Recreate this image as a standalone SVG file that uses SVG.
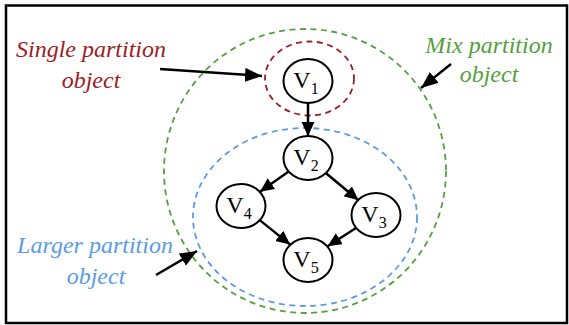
<svg xmlns="http://www.w3.org/2000/svg" width="569" height="325" viewBox="0 0 569 325">
<style>
.node ellipse{fill:#fff;stroke:#000;stroke-width:2}
.vl{font-size:24px;fill:#000;text-anchor:middle}
.sub{font-size:16px}
.lab{font-style:italic;font-size:24px;text-anchor:middle}
.edge{stroke:#000;stroke-width:2.5;fill:none;marker-end:url(#ah)}
.ptr{stroke:#000;stroke-width:2.5;fill:none;marker-end:url(#ah2)}
.dash{fill:none;stroke-width:1.8;stroke-dasharray:6 4.5}
</style>
<defs>
<marker id="ah" markerUnits="userSpaceOnUse" markerWidth="15" markerHeight="14" refX="14" refY="6.5" orient="auto">
<path d="M0,0 L14,6.5 L0,13 z" fill="#000"/>
</marker>
<marker id="ah2" markerUnits="userSpaceOnUse" markerWidth="18" markerHeight="15" refX="17" refY="7" orient="auto">
<path d="M0,0 L17,7 L0,14 z" fill="#000"/>
</marker>
</defs>
<rect x="6" y="5.5" width="561" height="317.5" fill="#fff" stroke="#000" stroke-width="2.5"/>
<g id="groups">
<ellipse id="mix-partition" class="dash" cx="305" cy="171" rx="141" ry="142" stroke="#54a040"/>
<ellipse id="larger-partition" class="dash" cx="305" cy="217" rx="112" ry="89" stroke="#5b9be6"/>
<ellipse id="single-partition" class="dash" cx="309.5" cy="78.5" rx="44.5" ry="37" stroke="#9e1c22"/>
</g>
<g id="connectors">
<line class="edge" x1="308" y1="103" x2="308" y2="136"/>
<line class="edge" x1="289" y1="171.3" x2="260" y2="191.7"/>
<line class="edge" x1="325.5" y1="172.7" x2="358.5" y2="200.3"/>
<line class="edge" x1="258.8" y1="219.4" x2="290.2" y2="244.6"/>
<line class="edge" x1="356.4" y1="227.7" x2="327.6" y2="246.3"/>
<line class="ptr" x1="160" y1="69" x2="262" y2="76"/>
<line class="ptr" x1="451" y1="64" x2="421" y2="88"/>
<line class="ptr" x1="156" y1="275" x2="197" y2="251"/>
</g>
<g font-family="Liberation Serif, Times New Roman, serif">
<g id="V1" class="node"><ellipse cx="308" cy="81" rx="24.5" ry="22"/>
<text class="vl" x="306" y="88">V<tspan class="sub" dy="6">1</tspan></text></g>
<g id="V2" class="node"><ellipse cx="308" cy="158" rx="24.5" ry="22"/>
<text class="vl" x="306" y="165">V<tspan class="sub" dy="6">2</tspan></text></g>
<g id="V4" class="node"><ellipse cx="241" cy="206" rx="24.5" ry="22"/>
<text class="vl" x="239" y="213">V<tspan class="sub" dy="6">4</tspan></text></g>
<g id="V3" class="node"><ellipse cx="376" cy="215" rx="24.5" ry="22"/>
<text class="vl" x="374" y="222">V<tspan class="sub" dy="6">3</tspan></text></g>
<g id="V5" class="node"><ellipse cx="308" cy="260" rx="24.5" ry="22"/>
<text class="vl" x="306" y="267">V<tspan class="sub" dy="6">5</tspan></text></g>
<g id="labels">
<text class="lab" fill="#9e1c22" x="91" y="57">Single partition</text>
<text class="lab" fill="#9e1c22" x="91" y="88">object</text>
<text class="lab" fill="#54a040" x="489" y="53">Mix partition</text>
<text class="lab" fill="#54a040" x="489" y="82">object</text>
<text class="lab" fill="#5b9be6" x="95" y="253">Larger partition</text>
<text class="lab" fill="#5b9be6" x="96" y="284">object</text>
</g>
</g>
</svg>
